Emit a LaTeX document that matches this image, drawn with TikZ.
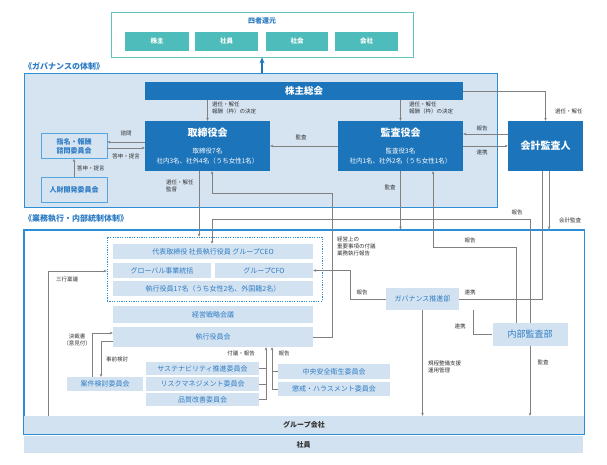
\documentclass[tikz,border=0pt]{standalone}
\usepackage{fontspec}
\setmainfont{Noto Sans CJK JP}
\usetikzlibrary{arrows.meta}

\definecolor{darkblue}{HTML}{1C74BA}
\definecolor{lightblue}{HTML}{D3E2F1}
\definecolor{govfill}{HTML}{D6E4F2}
\definecolor{frameblue}{HTML}{2B8ED6}
\definecolor{textblue}{HTML}{2E7CC4}
\definecolor{tealbox}{HTML}{4DBCBA}
\definecolor{linegray}{HTML}{808080}
\definecolor{lblgray}{HTML}{333333}

\tikzset{
  darkbox/.style={fill=darkblue, text=white, inner sep=0pt, align=center},
  lightbox/.style={fill=lightblue, text=textblue, inner sep=0pt,
    font=\fontsize{7}{8}\selectfont},
  edgebox/.style={fill=govfill, draw=frameblue!80, line width=0.8pt, text=textblue,
    inner sep=0pt, align=center, font=\fontsize{7}{9}\selectfont\bfseries},
  tealcell/.style={fill=tealbox, text=white, inner sep=0pt, minimum height=19pt,
    font=\fontsize{6.5}{8}\selectfont\bfseries},
  bar/.style={fill=lightblue, text=lblgray, inner sep=0pt,
    font=\fontsize{7}{8}\selectfont\bfseries},
  conn/.style={draw=linegray, line width=0.6pt},
  arr/.style={conn, -{Stealth[length=3pt,width=2.6pt]}},
  lbl/.style={font=\fontsize{5.5}{7}\selectfont, text=lblgray, inner sep=0pt, align=left},
  sectitle/.style={font=\fontsize{8}{9}\selectfont\bfseries, text=textblue,
    inner sep=0pt, anchor=west},
}

\begin{document}
\begin{tikzpicture}[x=1pt, y=-1pt]
  \useasboundingbox (0,0) rectangle (607,465);

  % 四者還元
  \node[draw=tealbox!90, line width=0.8pt, minimum width=302pt, minimum height=45pt,
    inner sep=0pt] (four) at (262,34.5) {};
  \node[font=\fontsize{7}{8}\selectfont\bfseries, text=textblue, inner sep=0pt]
    (fourtitle) at (262,21) {四者還元};
  \node[tealcell, minimum width=64pt] (ret1) at (157,41.5) {株主};
  \node[tealcell, minimum width=63pt] (ret2) at (226.5,41.5) {社員};
  \node[tealcell, minimum width=62pt] (ret3) at (297,41.5) {社会};
  \node[tealcell, minimum width=63pt] (ret4) at (366.5,41.5) {会社};

  % ガバナンスの体制
  \node[sectitle] (govtitle) at (24,66) {《ガバナンスの体制》};
  \node[fill=govfill, draw=frameblue, line width=1pt, minimum width=473pt,
    minimum height=133pt, inner sep=0pt] (gov) at (260.5,140.5) {};
  \draw[darkblue, line width=1.4pt, -{Stealth[length=6pt,width=5pt]}]
    (gov.north -| four.south) -- (four.south);

  \node[darkbox, minimum width=318pt, minimum height=18pt,
    font=\fontsize{9.5}{10}\selectfont\bfseries] (sokai) at (304,91) {株主総会};
  \node[darkbox, minimum width=125pt, minimum height=50pt,
    font=\fontsize{6.5}{10}\selectfont] (tori) at (207.5,146)
    {{\fontsize{10}{12}\selectfont\bfseries 取締役会}\\[7pt]取締役7名\\社内3名、社外4名（うち女性1名）};
  \node[darkbox, minimum width=125pt, minimum height=50pt,
    font=\fontsize{6.5}{10}\selectfont] (kansa) at (400.5,146)
    {{\fontsize{10}{12}\selectfont\bfseries 監査役会}\\[7pt]監査役3名\\社内1名、社外2名（うち女性1名）};
  \node[darkbox, minimum width=75pt, minimum height=50pt,
    font=\fontsize{10}{12}\selectfont\bfseries] (kaikei) at (545.5,146) {会計監査人};
  \node[edgebox, minimum width=66pt, minimum height=25pt] (shimei) at (74,146)
    {指名・報酬\\諮問委員会};
  \node[edgebox, minimum width=66pt, minimum height=25pt] (jinzai) at (74,189.5)
    {人財開発委員会};

  % 業務執行・内部統制体制
  \node[sectitle] (exectitle) at (24,219) {《業務執行・内部統制体制》};
  \node[fill=white, draw=frameblue, line width=1pt, minimum width=560pt,
    minimum height=204pt, inner sep=0pt] (exec) at (304,332) {};
  \node[bar, minimum width=560pt, minimum height=18pt] (group) at (304,425) {グループ会社};
  \draw[frameblue, line width=1pt] (exec.north west) rectangle (exec.south east);
  \node[bar, minimum width=559pt, minimum height=17pt] (shain) at (303.5,444.5) {社員};

  \node[draw=frameblue, line width=0.6pt, dash pattern=on 1.2pt off 1.2pt,
    minimum width=215pt, minimum height=64pt, inner sep=0pt] (dotted) at (214.5,269) {};
  \node[lightbox, minimum width=200pt, minimum height=15pt] (ceo) at (213,251.5)
    {代表取締役 社長執行役員 グループCEO};
  \node[lightbox, minimum width=98pt, minimum height=15pt] (glob) at (162,270.5)
    {グローバル事業統括};
  \node[lightbox, minimum width=98pt, minimum height=15pt] (cfo) at (264,270.5)
    {グループCFO};
  \node[lightbox, minimum width=200pt, minimum height=15pt] (yakuin) at (213,288.5)
    {執行役員17名（うち女性2名、外国籍2名）};
  \node[lightbox, minimum width=200pt, minimum height=17pt] (senryaku) at (213,314.5)
    {経営戦略会議};
  \node[lightbox, minimum width=200pt, minimum height=20pt] (yakuinkai) at (213,337)
    {執行役員会};
  \node[lightbox, minimum width=76pt, minimum height=14pt] (anken) at (105,384)
    {案件検討委員会};
  \node[lightbox, minimum width=113pt, minimum height=13pt] (sus) at (202.5,368.5)
    {サステナビリティ推進委員会};
  \node[lightbox, minimum width=113pt, minimum height=14pt] (risk) at (202.5,384)
    {リスクマネジメント委員会};
  \node[lightbox, minimum width=113pt, minimum height=13pt] (hinshitsu) at (202.5,399.5)
    {品質改善委員会};
  \node[lightbox, minimum width=112pt, minimum height=15pt] (chuo) at (334,371.5)
    {中央安全衛生委員会};
  \node[lightbox, minimum width=112pt, minimum height=14pt] (chokai) at (334,389)
    {懲戒・ハラスメント委員会};
  \node[lightbox, minimum width=73pt, minimum height=22pt] (gvsuishin) at (422.5,299)
    {ガバナンス推進部};
  \node[lightbox, minimum width=75pt, minimum height=23pt,
    font=\fontsize{9}{10}\selectfont] (naibu) at (530,334.5) {内部監査部};

  % attachment points and bends
  \coordinate (t1) at ([xshift=-8.5pt]tori.south);
  \coordinate (t2) at ([xshift=4.5pt]tori.south);
  \coordinate (k1) at ([xshift=32.5pt]kansa.south);
  \coordinate (kA) at ([xshift=-3.5pt]kaikei.south);
  \coordinate (kB) at ([xshift=3.5pt]kaikei.south);
  \coordinate (n1) at ([xshift=-14pt]naibu.north);
  \coordinate (c1) at ([xshift=-1pt]ceo.north);
  \coordinate (g1) at ([xshift=50.5pt]gvsuishin.south);
  \coordinate (r1) at ([yshift=-2pt]dotted.west);
  \coordinate (y1) at ([yshift=4pt]yakuinkai.west);
  \coordinate (y2) at ([yshift=-4pt]yakuinkai.west);
  \coordinate (a1) at ([xshift=-13pt]anken.north);
  \coordinate (a2) at ([xshift=-4pt]anken.north);
  \coordinate (ya1) at ([xshift=53pt]yakuinkai.south);
  \coordinate (ya2) at ([xshift=59pt]yakuinkai.south);
  \coordinate (bend1) at (332,193);
  \coordinate (bend2) at (433,247);
  \coordinate (bend3) at (212,219);
  \coordinate (bend4) at (350,270.5);
  \coordinate (bend5) at (48,271);

  % governance connectors
  \draw[arr] (sokai.south -| tori.north) -- (tori.north);
  \draw[arr] (sokai.south -| kansa.north) -- (kansa.north);
  \draw[arr] (sokai.east) -| (kaikei.north);
  \draw[arr] (kansa.west) -- (tori.east);
  \draw[arr] ([yshift=12pt]kaikei.west) -- ([yshift=12pt]kansa.east);
  \draw[arr] (kansa.east) -- (kaikei.west);
  \draw[arr] ([yshift=4pt]tori.west) -- ([yshift=4pt]shimei.east);
  \draw[arr] ([yshift=-2pt]shimei.east) -- ([yshift=-2pt]tori.west);
  \draw[arr] (jinzai.north) -- (shimei.south);

  % into the execution side
  \draw[arr] (t1) -- (t1 |- dotted.north);
  \draw[arr] (yakuinkai.east) -| (bend1) -| (t2);
  \draw[arr] (kansa.south) -- (kansa.south |- exec.north);
  \draw[arr] (n1) |- (bend2) -- (k1);
  \draw[arr] (kB) -- (kB |- exec.north);
  \draw[conn] (kA) |- (gvsuishin.east);
  \draw[arr] (naibu.north) |- (bend3) -- (c1);
  \draw[arr] (gvsuishin.west) -| (bend4) -- (cfo.east);
  \draw[conn] (g1) |- (naibu.west);
  \draw[arr] (gvsuishin.south) -- (gvsuishin.south |- group.north);
  \draw[arr] (naibu.south) -- (naibu.south |- group.north);
  \draw[arr] (bend5 |- group.north) |- (r1);
  \draw[arr] (a1) |- (y1);
  \draw[arr] (y2) -| (a2);

  % committees
  \draw[arr] (hinshitsu.east) -| (ya1);
  \draw[conn] (sus.east) -- (sus.east -| ya1);
  \draw[conn] (risk.east) -- (risk.east -| ya1);
  \draw[arr] (chokai.west) -| (ya2);
  \draw[conn] (chuo.west) -- (chuo.west -| ya2);

  % labels
  \node[lbl, anchor=north west] (l1) at (212,102) {選任・解任\\報酬（枠）の決定};
  \node[lbl, anchor=north west] (l2) at (409,102) {選任・解任\\報酬（枠）の決定};
  \node[lbl, anchor=west] (l3) at (555,111) {選任・解任};
  \node[lbl] (l4) at (301,137) {監査};
  \node[lbl] (l5) at (482,128) {報告};
  \node[lbl] (l6) at (482,152) {連携};
  \node[lbl] (l7) at (126,133) {諮問};
  \node[lbl] (l8) at (126,156) {答申・提言};
  \node[lbl, anchor=west] (l9) at (77,168) {答申・提言};
  \node[lbl, anchor=north west] (l10) at (166,180) {選任・解任\\監督};
  \node[lbl] (l11) at (390,187) {監査};
  \node[lbl] (l12) at (570,220) {会計監査};
  \node[lbl] (l13) at (517,212) {報告};
  \node[lbl] (l14) at (470,240) {報告};
  \node[lbl, anchor=north west] (l15) at (337,237) {経営上の\\重要事項の付議\\業務執行報告};
  \node[lbl] (l16) at (362,292) {報告};
  \node[lbl] (l17) at (470,292) {連携};
  \node[lbl] (l18) at (460,326) {連携};
  \node[lbl, anchor=north west] (l19) at (428,361) {規程整備支援\\運用管理};
  \node[lbl] (l20) at (543,362) {監査};
  \node[lbl, anchor=west] (l21) at (56,279) {三行稟議};
  \node[lbl, align=center] (l22) at (77,340) {決裁書\\（意見付）};
  \node[lbl, anchor=west] (l23) at (106,359) {事前検討};
  \node[lbl] (l24) at (241,353) {付議・報告};
  \node[lbl] (l25) at (284,353) {報告};
\end{tikzpicture}
\end{document}
